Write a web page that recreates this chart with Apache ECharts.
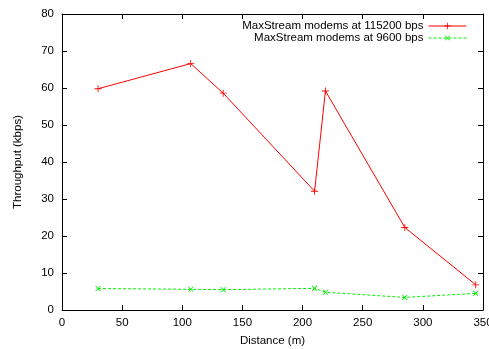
<!DOCTYPE html>
<html><head><meta charset="utf-8">
<script src="https://cdn.jsdelivr.net/npm/echarts@6/dist/echarts.min.js"></script>
<style>html,body{margin:0;padding:0;background:#fff}#c{width:489px;height:349px}</style>
</head><body><div id="c"></div>
<script>
const distances = [30, 107, 134, 210, 219, 285, 344];
const fast = [59.8, 66.6, 58.6, 32.1, 59.2, 22.3, 6.8];
const slow = [5.8, 5.6, 5.5, 5.85, 4.8, 3.4, 4.5];
const seriesNames = ['MaxStream modems at 115200 bps', 'MaxStream modems at 9600 bps'];
const xTicks = [0, 50, 100, 150, 200, 250, 300, 350];
const yTicks = [0, 10, 20, 30, 40, 50, 60, 70, 80];

const font = 'Liberation Sans';
const plus = 'path://M-0.12,-1 H0.12 V-0.12 H1 V0.12 H0.12 V1 H-0.12 V0.12 H-1 V-0.12 H-0.12 Z';
const chart = echarts.init(document.getElementById('c'), null, {renderer: 'canvas'});
const axisCommon = {
  axisLine: {show: true, onZero: false, lineStyle: {color: '#000', width: 1}},
  axisTick: {show: true, inside: true, length: 5, lineStyle: {color: '#000'}},
  splitLine: {show: false}
};
chart.setOption({
  animation: false,
  textStyle: {fontFamily: font},
  grid: {left: 62, right: 6, top: 14, bottom: 39, show: false, outerBoundsMode: 'none', containLabel: false},
  legend: {
    orient: 'vertical', right: 17, top: 15, align: 'right', itemGap: 0,
    itemWidth: 38, itemHeight: 8,
    lineStyle: {width: 1},
    textStyle: {fontFamily: font, fontSize: 11.5, color: '#000', lineHeight: 11},
    data: seriesNames
  },
  xAxis: [
    Object.assign({type: 'value', min: 0, max: 350, interval: 50, position: 'bottom',
      name: 'Distance (m)', nameLocation: 'middle', nameGap: 25,
      nameTextStyle: {fontFamily: font, fontSize: 11.5, color: '#000'},
      axisLabel: {fontFamily: font, fontSize: 11.5, color: '#000', margin: 7,
        formatter: v => xTicks.includes(v) ? String(v) : ''}}, axisCommon),
    Object.assign({type: 'value', min: 0, max: 350, interval: 50, position: 'top',
      axisLabel: {show: false}}, axisCommon)
  ],
  yAxis: [
    Object.assign({type: 'value', min: 0, max: 80, interval: 10, position: 'left',
      name: 'Throughput (kbps)', nameLocation: 'middle', nameGap: 38, nameRotate: 90,
      nameTextStyle: {fontFamily: font, fontSize: 11.5, color: '#000'},
      axisLabel: {fontFamily: font, fontSize: 11.5, color: '#000', margin: 8,
        formatter: v => yTicks.includes(v) ? String(v) : ''}}, axisCommon),
    Object.assign({type: 'value', min: 0, max: 80, interval: 10, position: 'right',
      axisLabel: {show: false}}, axisCommon)
  ],
  series: [
    {name: seriesNames[0], type: 'line', xAxisIndex: 0, yAxisIndex: 0,
      data: distances.map((d, i) => [d, fast[i]]),
      symbol: plus, symbolSize: 7, showAllSymbol: true,
      lineStyle: {color: '#ff0000', width: 1},
      itemStyle: {color: '#ff0000'}},
    {name: seriesNames[1], type: 'line', xAxisIndex: 0, yAxisIndex: 0,
      data: distances.map((d, i) => [d, slow[i]]),
      symbol: plus, symbolRotate: 45, symbolSize: 7, showAllSymbol: true,
      lineStyle: {color: '#00ee00', width: 1, type: [3, 2]},
      itemStyle: {color: '#00ee00'}}
  ]
});
</script></body></html>
